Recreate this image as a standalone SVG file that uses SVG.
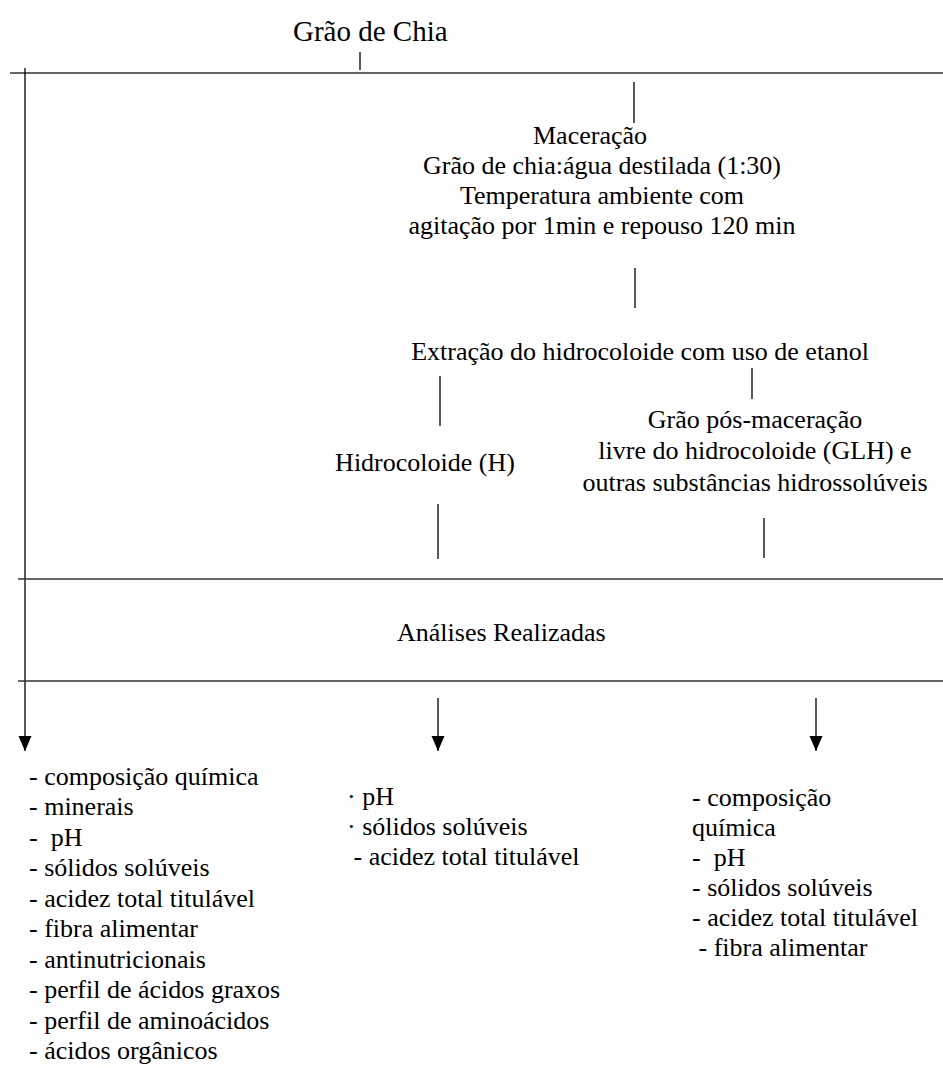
<svg xmlns="http://www.w3.org/2000/svg" width="943" height="1068" viewBox="0 0 943 1068" font-family="'Liberation Serif', 'Times New Roman', serif">
<defs>
<style>
text{font-family:"Liberation Serif","Times New Roman",serif;font-size:26px;fill:#000;white-space:pre}
.t{font-size:29px}
.c{text-anchor:middle}
.ln{stroke:#000;stroke-width:1.3;fill:none}
.hl{stroke:#333;stroke-width:1.6;fill:none}
</style>
<marker id="ah" markerUnits="userSpaceOnUse" markerWidth="16" markerHeight="14" refX="15" refY="6.5" orient="auto" viewBox="0 0 16 14">
<path d="M0,0 L15,6.5 L0,13 z" fill="#000"/>
</marker>
</defs>
<rect width="943" height="1068" fill="#fff"/>

<g id="connectors">
<line class="ln" x1="360" y1="52" x2="360" y2="70"/>
<line class="hl" x1="10" y1="73" x2="943" y2="73"/>
<line class="ln" x1="25" y1="68" x2="25" y2="751" marker-end="url(#ah)"/>
<line class="ln" x1="634" y1="82" x2="634" y2="123"/>
<line class="ln" x1="635" y1="268" x2="635" y2="308"/>
<line class="ln" x1="752" y1="368" x2="752" y2="399"/>
<line class="ln" x1="440" y1="376" x2="440" y2="426"/>
<line class="ln" x1="438" y1="504" x2="438" y2="559"/>
<line class="ln" x1="764" y1="518" x2="764" y2="558"/>
<line class="hl" x1="18" y1="579" x2="943" y2="579"/>
<line class="hl" x1="18" y1="681" x2="943" y2="681"/>
<line class="ln" x1="438" y1="698" x2="438" y2="751" marker-end="url(#ah)"/>
<line class="ln" x1="816" y1="698" x2="816" y2="751" marker-end="url(#ah)"/>
</g>

<g id="grao-chia">
<text class="t" x="293" y="41">Grão de Chia</text>
</g>

<g id="maceracao">
<text x="533" y="144">Maceração</text>
<text class="c" x="602" y="174">Grão de chia:água destilada (1:30)</text>
<text class="c" x="602" y="204">Temperatura ambiente com</text>
<text class="c" x="602" y="234">agitação por 1min e repouso 120 min</text>
</g>

<g id="extracao">
<text class="c" x="640" y="360">Extração do hidrocoloide com uso de etanol</text>
</g>

<g id="hidrocoloide">
<text class="c" x="425" y="471">Hidrocoloide (H)</text>
</g>

<g id="glh">
<text class="c" x="755" y="428">Grão pós-maceração</text>
<text class="c" x="755" y="459">livre do hidrocoloide (GLH) e</text>
<text class="c" x="755" y="491">outras substâncias hidrossolúveis</text>
</g>

<g id="analises">
<text x="397" y="641">Análises Realizadas</text>
</g>

<g id="lista-grao">
<text x="29" y="785">- composição química</text>
<text x="29" y="815">- minerais</text>
<text x="29" y="846">-  pH</text>
<text x="29" y="876">- sólidos solúveis</text>
<text x="29" y="907">- acidez total titulável</text>
<text x="29" y="937">- fibra alimentar</text>
<text x="29" y="968">- antinutricionais</text>
<text x="29" y="998">- perfil de ácidos graxos</text>
<text x="29" y="1029">- perfil de aminoácidos</text>
<text x="29" y="1059">- ácidos orgânicos</text>
</g>

<g id="lista-h">
<text x="347" y="805">· pH</text>
<text x="347" y="835">· sólidos solúveis</text>
<text x="347" y="865"> - acidez total titulável</text>
</g>

<g id="lista-glh">
<text x="692" y="806">- composição</text>
<text x="692" y="836">química</text>
<text x="692" y="866">-  pH</text>
<text x="692" y="896">- sólidos solúveis</text>
<text x="692" y="926">- acidez total titulável</text>
<text x="692" y="956"> - fibra alimentar</text>
</g>
</svg>
